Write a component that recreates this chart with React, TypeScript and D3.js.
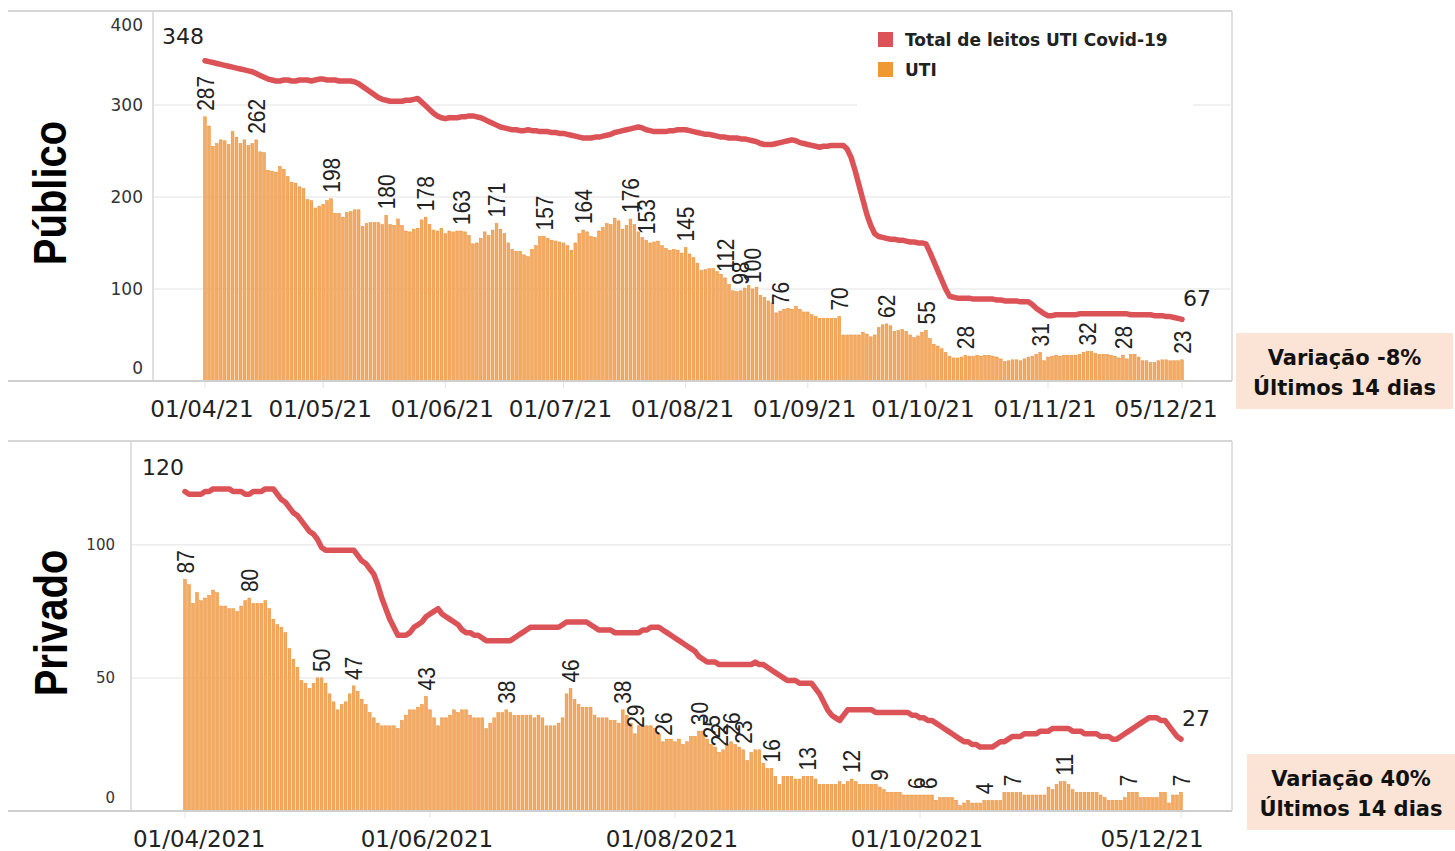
import React from "react";
import * as d3 from "d3";

// daily series, 01/04/2021 .. 05/12/2021
const days = d3.timeDay.range(new Date(2021, 3, 1), new Date(2021, 11, 6));

const publicoTotal = [
  348, 347, 346, 345, 344, 343, 342, 341, 340, 339,
  338, 337, 336, 334, 332, 330, 328, 327, 326, 326,
  327, 327, 326, 326, 327, 327, 327, 326, 327, 328,
  328, 327, 327, 327, 326, 326, 326, 326, 325, 323,
  320, 317, 314, 311, 308, 306, 305, 304, 304, 304,
  304, 305, 305, 306, 307, 303, 299, 295, 291, 288,
  286, 285, 286, 286, 286, 287, 287, 288, 288, 287,
  286, 284, 282, 280, 278, 276, 275, 274, 273, 273,
  272, 272, 273, 272, 272, 271, 271, 271, 270, 270,
  269, 269, 268, 267, 266, 265, 264, 264, 264, 265,
  265, 266, 267, 268, 270, 271, 272, 273, 274, 275,
  276, 275, 273, 272, 271, 271, 271, 271, 272, 272,
  273, 273, 273, 272, 271, 270, 269, 268, 268, 267,
  266, 265, 265, 264, 264, 264, 263, 263, 262, 261,
  260, 258, 257, 257, 257, 258, 259, 260, 261, 262,
  261, 259, 258, 257, 256, 255, 254, 255, 255, 256,
  256, 256, 256, 252, 243, 229, 213, 197, 181, 169,
  160, 157, 156, 155, 154, 154, 153, 153, 152, 151,
  151, 150, 150, 149, 140, 130, 120, 110, 100, 92,
  91, 90, 90, 90, 90, 89, 89, 89, 89, 89,
  89, 88, 88, 87, 87, 87, 87, 86, 86, 86,
  83, 79, 76, 73, 71, 71, 72, 72, 72, 72,
  72, 72, 73, 73, 73, 73, 73, 73, 73, 73,
  73, 73, 73, 73, 73, 72, 72, 72, 72, 72,
  72, 71, 71, 71, 70, 70, 69, 68, 67,
];

const publicoUti = [
  287, 277, 255, 258, 262, 261, 257, 271, 265, 258,
  262, 256, 258, 262, 249, 248, 229, 228, 227, 233,
  230, 222, 216, 215, 211, 209, 197, 196, 188, 190,
  192, 196, 198, 182, 182, 178, 183, 184, 186, 186,
  168, 171, 172, 172, 172, 170, 180, 170, 169, 176,
  169, 163, 162, 165, 166, 175, 178, 170, 164, 163,
  166, 160, 163, 162, 163, 163, 162, 158, 149, 150,
  155, 162, 158, 164, 171, 165, 160, 150, 143, 141,
  141, 137, 135, 143, 147, 157, 157, 155, 153, 152,
  151, 150, 147, 142, 150, 160, 164, 162, 157, 156,
  163, 167, 171, 170, 177, 174, 165, 169, 176, 170,
  162, 156, 153, 150, 151, 152, 147, 144, 142, 143,
  142, 139, 145, 138, 134, 128, 120, 121, 122, 122,
  119, 116, 112, 105, 98, 97, 98, 101, 104, 100,
  102, 93, 91, 87, 85, 74, 76, 78, 79, 78,
  81, 78, 75, 75, 72, 70, 68, 68, 68, 68,
  68, 70, 50, 50, 50, 50, 50, 53, 51, 48,
  50, 58, 61, 62, 60, 54, 55, 56, 54, 50,
  47, 49, 53, 55, 46, 40, 38, 35, 31, 27,
  25, 25, 26, 28, 27, 27, 28, 27, 28, 28,
  27, 26, 24, 21, 22, 23, 23, 22, 24, 26,
  27, 29, 31, 22, 26, 27, 28, 27, 28, 28,
  28, 28, 29, 31, 32, 32, 30, 29, 29, 29,
  28, 27, 25, 28, 24, 29, 29, 26, 22, 22,
  20, 20, 22, 23, 23, 22, 22, 22, 23,
];

const privadoTotal = [
  120, 119, 119, 119, 119, 120, 120, 121, 121, 121,
  121, 121, 120, 120, 120, 119, 119, 120, 120, 120,
  121, 121, 121, 119, 117, 116, 114, 112, 111, 109,
  107, 105, 104, 102, 99, 98, 98, 98, 98, 98,
  98, 98, 98, 96, 94, 93, 91, 89, 85, 80,
  76, 72, 69, 66, 66, 66, 67, 69, 70, 71,
  73, 74, 75, 76, 74, 73, 72, 71, 70, 68,
  67, 67, 66, 66, 65, 64, 64, 64, 64, 64,
  64, 64, 65, 66, 67, 68, 69, 69, 69, 69,
  69, 69, 69, 69, 70, 71, 71, 71, 71, 71,
  71, 70, 69, 68, 68, 68, 68, 67, 67, 67,
  67, 67, 67, 67, 68, 68, 69, 69, 69, 68,
  67, 66, 65, 64, 63, 62, 61, 60, 58, 57,
  56, 56, 56, 55, 55, 55, 55, 55, 55, 55,
  55, 55, 56, 55, 55, 54, 53, 52, 51, 50,
  49, 49, 49, 48, 48, 48, 48, 46, 44, 41,
  38, 36, 35, 34, 36, 38, 38, 38, 38, 38,
  38, 38, 37, 37, 37, 37, 37, 37, 37, 37,
  37, 36, 36, 35, 35, 34, 34, 33, 32, 31,
  30, 29, 28, 27, 26, 26, 25, 25, 24, 24,
  24, 24, 25, 26, 26, 27, 28, 28, 28, 29,
  29, 29, 29, 30, 30, 30, 31, 31, 31, 31,
  31, 30, 30, 30, 29, 29, 29, 29, 28, 28,
  28, 27, 27, 28, 29, 30, 31, 32, 33, 34,
  35, 35, 35, 34, 34, 32, 30, 28, 27,
];

const privadoUti = [
  87, 85, 78, 82, 79, 80, 81, 83, 82, 77,
  77, 76, 76, 75, 77, 79, 80, 78, 78, 78,
  79, 76, 72, 70, 69, 67, 61, 57, 54, 49,
  48, 46, 48, 50, 50, 48, 44, 41, 38, 40,
  41, 44, 47, 45, 42, 40, 37, 35, 33, 32,
  32, 32, 32, 31, 34, 36, 38, 38, 39, 40,
  43, 38, 35, 32, 35, 35, 36, 38, 37, 38,
  38, 36, 35, 35, 35, 31, 33, 35, 37, 37,
  38, 37, 36, 36, 36, 36, 36, 35, 36, 35,
  32, 32, 32, 33, 35, 44, 46, 42, 40, 39,
  39, 39, 36, 35, 35, 35, 34, 34, 33, 38,
  36, 33, 29, 32, 32, 32, 32, 31, 29, 26,
  27, 27, 26, 27, 25, 26, 28, 28, 30, 30,
  27, 25, 24, 22, 23, 25, 26, 25, 24, 23,
  19, 22, 23, 23, 18, 16, 16, 13, 10, 13,
  13, 13, 12, 12, 13, 13, 13, 12, 10, 10,
  10, 10, 10, 11, 10, 11, 12, 11, 10, 10,
  10, 10, 10, 9, 8, 7, 7, 7, 7, 6,
  6, 6, 6, 6, 6, 6, 6, 4, 5, 5,
  5, 5, 4, 2, 3, 4, 3, 3, 3, 4,
  4, 4, 4, 4, 7, 7, 7, 7, 7, 6,
  6, 6, 6, 6, 6, 9, 8, 10, 11, 11,
  10, 8, 7, 7, 7, 7, 7, 7, 6, 5,
  4, 4, 4, 4, 5, 7, 7, 7, 5, 5,
  5, 5, 5, 7, 7, 3, 6, 6, 7,
];

// days (index into the series) that carry a value label
const publicoLabelDays = [0, 13, 32, 46, 56, 65, 74, 86, 96, 108, 112, 122, 132, 136, 139, 146, 161, 173, 183, 193, 212, 224, 233, 248];
const privadoLabelDays = [0, 16, 34, 42, 60, 80, 96, 109, 112, 119, 128, 131, 133, 136, 139, 146, 155, 166, 173, 182, 185, 199, 206, 219, 235, 248];

const publicoTickDates = ["2021-04-01", "2021-05-01", "2021-06-01", "2021-07-01", "2021-08-01", "2021-09-01", "2021-10-01", "2021-11-01", "2021-12-05"];
const publicoTickLabels = ["01/04/21", "01/05/21", "01/06/21", "01/07/21", "01/08/21", "01/09/21", "01/10/21", "01/11/21", "05/12/21"];
const privadoTickDates = ["2021-04-01", "2021-06-01", "2021-08-01", "2021-10-01", "2021-12-05"];
const privadoTickLabels = ["01/04/2021", "01/06/2021", "01/08/2021", "01/10/2021", "05/12/21"];

const publicoYTicks = [0, 100, 200, 300, 400];
const privadoYTicks = [0, 50, 100];

const RED = "#DB5257";
const ORANGE = "#F3AA62";
const ORANGE_EDGE = "#E98A2E";
const GRID = "#ececec";
const FRAME = "#d6d6d6";

const parse = d3.timeParse("%Y-%m-%d");

type PanelProps = {
  total: number[];
  uti: number[];
  labelDays: number[];
  tickDates: string[];
  tickLabels: string[];
  yTicks: number[];
  title: string;
  top: number;
  base: number;
  axisX: number;
  x0: number;
  x1: number;
  yMax: number;
  tickFont: number;
  tickRight: number;
  dateMin: number;
  dateMax: number;
  titleX: number;
  titleY: number;
  note: string;
  box: { x: number; y: number; w: number; h: number };
  legend?: boolean;
};

const RIGHT = 1232;

function Panel(p: PanelProps) {
  const x = d3.scaleTime().domain([days[0], days[days.length - 1]]).range([p.x0, p.x1]);
  const y = d3.scaleLinear().domain([0, p.yMax]).range([p.base, p.top]);
  const step = (p.x1 - p.x0) / (days.length - 1);
  const bw = step * 0.7;
  const line = d3
    .line<number>()
    .x((d, i) => x(days[i]))
    .y(d => y(d));
  const n = p.total.length;
  const dateW = (s: string) => s.length * 0.6 * 23 * (s.length === 10 ? 0.96 : 0.94);

  return (
    <g>
      {/* frame */}
      <line x1={8} x2={RIGHT} y1={p.top} y2={p.top} stroke={FRAME} strokeWidth={2} />
      <line x1={RIGHT} x2={RIGHT} y1={p.top} y2={p.base} stroke={FRAME} strokeWidth={1.5} />
      {p.yTicks.filter(t => t > 0 && y(t) > p.top + 4).map(t => (
        <line key={t} x1={p.axisX} x2={RIGHT} y1={y(t)} y2={y(t)} stroke={GRID} strokeWidth={1.5} />
      ))}
      <line x1={p.axisX} x2={p.axisX} y1={p.top} y2={p.base} stroke={FRAME} strokeWidth={1.5} />

      {p.legend && (
        <g>
          <rect x={857} y={18} width={336} height={95} fill="#fff" />
          <rect x={878} y={32} width={15} height={15} fill={RED} />
          <text x={905} y={46} fontFamily="DejaVu Sans" fontWeight="bold" fontSize={17} fill="#222">Total de leitos UTI Covid-19</text>
          <rect x={878} y={62} width={15} height={15} fill="#F09833" />
          <text x={905} y={76} fontFamily="DejaVu Sans" fontWeight="bold" fontSize={17} fill="#222">UTI</text>
        </g>
      )}

      {/* y tick labels */}
      {p.yTicks.map(t => (
        <text
          key={t}
          x={p.tickRight}
          y={Math.min(Math.max(y(t), p.top + 14), p.base - 13)}
          textAnchor="end"
          dominantBaseline="central"
          fontFamily="DejaVu Sans"
          fontSize={p.tickFont}
          fill="#333"
        >
          {t}
        </text>
      ))}

      {/* bars */}
      {p.uti.map((v, i) => (
        <rect
          key={i}
          x={x(days[i]) - bw / 2}
          y={y(v)}
          width={bw}
          height={p.base - y(v)}
          fill={ORANGE}
          stroke={ORANGE_EDGE}
          strokeWidth={0.5}
        />
      ))}

      {/* total line */}
      <path d={line(p.total) || ""} fill="none" stroke={RED} strokeWidth={5.5} strokeLinejoin="round" strokeLinecap="round" />

      {/* axis + ticks */}
      <line x1={8} x2={RIGHT} y1={p.base} y2={p.base} stroke="#cfcfcf" strokeWidth={2} />
      {p.tickDates.map((d, i) => {
        const tx = x(parse(d) as Date);
        const w = dateW(p.tickLabels[i]);
        let cx = tx - 3;
        cx = Math.max(cx, p.dateMin + w / 2);
        cx = Math.min(cx, p.dateMax - w / 2);
        return (
          <g key={d}>
            <line x1={tx} x2={tx} y1={p.base + 1} y2={p.base + 7} stroke="#e2e2e2" strokeWidth={1} />
            <text x={cx} y={p.base + 36} textAnchor="middle" fontFamily="DejaVu Sans" fontSize={23} fill="#222">
              {p.tickLabels[i]}
            </text>
          </g>
        );
      })}

      {/* value labels */}
      {p.labelDays.map(i => (
        <text
          key={i}
          transform={`translate(${x(days[i])},${y(p.uti[i]) - 6}) rotate(-90) scale(1,1.15)`}
          dy="0.36em"
          textAnchor="start"
          fontFamily="Liberation Sans"
          fontSize={21}
          fill="#222"
        >
          {p.uti[i]}
        </text>
      ))}

      {/* line end values */}
      <text x={x(days[0]) - 1} y={y(p.total[0]) - 17} textAnchor="end" fontFamily="DejaVu Sans" fontSize={22} fill="#222">
        {p.total[0]}
      </text>
      <text x={x(days[n - 1]) + 1} y={y(p.total[n - 1]) - 13} textAnchor="start" fontFamily="DejaVu Sans" fontSize={22} fill="#222">
        {p.total[n - 1]}
      </text>

      {/* panel title */}
      <text
        transform={`translate(${p.titleX},${p.titleY}) rotate(-90) scale(1,1.15)`}
        textAnchor="middle"
        dominantBaseline="central"
        fontFamily="Liberation Sans"
        fontWeight="bold"
        fontSize={40}
        fill="#000"
      >
        {p.title}
      </text>

      {/* variation note */}
      <rect x={p.box.x} y={p.box.y} width={p.box.w} height={p.box.h} fill="#FBE4D5" />
      <text x={p.box.x + p.box.w / 2} y={p.box.y + 32} textAnchor="middle" fontFamily="DejaVu Sans" fontWeight="bold" fontSize={21} fill="#111">
        {p.note}
      </text>
      <text x={p.box.x + p.box.w / 2} y={p.box.y + 62} textAnchor="middle" fontFamily="DejaVu Sans" fontWeight="bold" fontSize={21} fill="#111">
        Últimos 14 dias
      </text>
    </g>
  );
}

export default function App() {
  return (
    <svg
      width={1455}
      height={851}
      style={{ position: "absolute", left: 0, top: 0, background: "#fff" }}
    >
      <Panel
        total={publicoTotal}
        uti={publicoUti}
        labelDays={publicoLabelDays}
        tickDates={publicoTickDates}
        tickLabels={publicoTickLabels}
        yTicks={publicoYTicks}
        title="Público"
        top={11}
        base={381}
        axisX={153}
        x0={205}
        x1={1182}
        yMax={402}
        tickFont={17}
        tickRight={143}
        dateMin={0}
        dateMax={1218}
        titleX={50}
        titleY={193}
        note="Variação -8%"
        box={{ x: 1236, y: 333, w: 217, h: 76 }}
        legend
      />
      <Panel
        total={privadoTotal}
        uti={privadoUti}
        labelDays={privadoLabelDays}
        tickDates={privadoTickDates}
        tickLabels={privadoTickLabels}
        yTicks={privadoYTicks}
        title="Privado"
        top={441}
        base={811}
        axisX={131}
        x0={185}
        x1={1181}
        yMax={139}
        tickFont={15}
        tickRight={115}
        dateMin={133}
        dateMax={1204}
        titleX={51}
        titleY={623}
        note="Variação 40%"
        box={{ x: 1247, y: 754, w: 208, h: 76 }}
      />
    </svg>
  );
}
